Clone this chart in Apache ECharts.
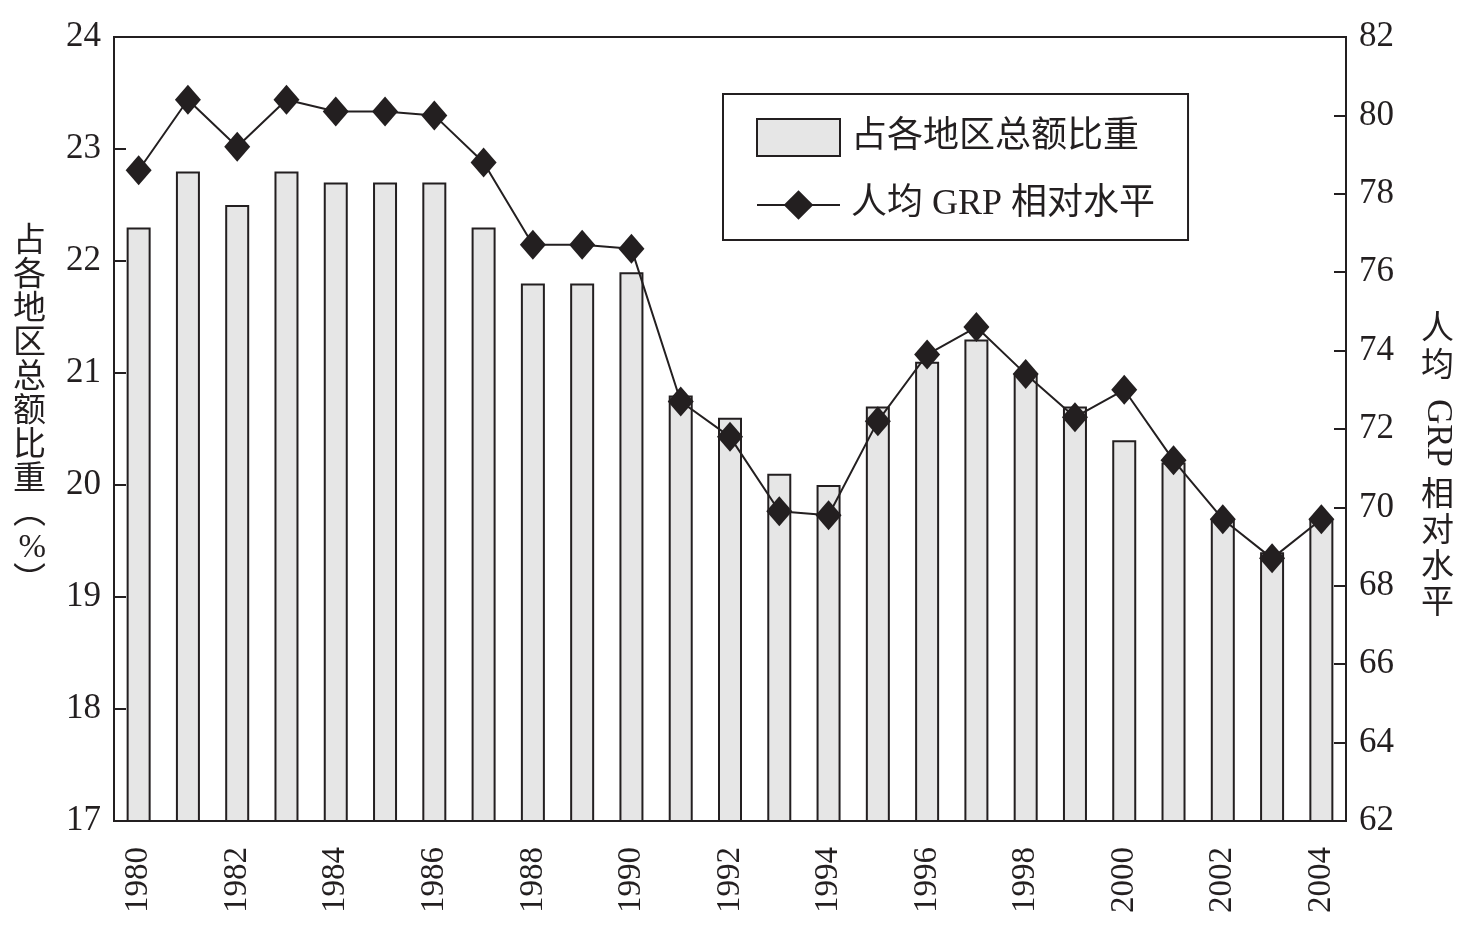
<!DOCTYPE html>
<html>
<head>
<meta charset="utf-8">
<script src="https://cdn.jsdelivr.net/npm/echarts@6/dist/echarts.min.js"></script>
<style>
html,body{margin:0;padding:0;background:#fff;}
#c{width:1477px;height:938px;}
</style>
</head>
<body>
<div id="c"></div>
<script>
var years = ['1980','1981','1982','1983','1984','1985','1986','1987','1988','1989','1990','1991','1992','1993','1994','1995','1996','1997','1998','1999','2000','2001','2002','2003','2004'];
var shareValues = [22.3,22.8,22.5,22.8,22.7,22.7,22.7,22.3,21.8,21.8,21.9,20.8,20.6,20.1,20.0,20.7,21.1,21.3,21.0,20.7,20.4,20.2,19.7,19.4,19.7];
var grpValues = [78.6,80.4,79.2,80.4,80.1,80.1,80.0,78.8,76.7,76.7,76.6,72.7,71.8,69.9,69.8,72.2,73.9,74.6,73.4,72.3,73.0,71.2,69.7,68.7,69.7];
var seriesNames = ['占各地区总额比重','人均 GRP 相对水平'];

var FONT = '"Liberation Serif", "Noto Sans CJK SC", serif';
var INK = '#231f20';
var chart = echarts.init(document.getElementById('c'), null, {renderer:'canvas'});
chart.setOption({
  animation:false,
  backgroundColor:'#fff',
  textStyle:{fontFamily:FONT,color:INK},
  grid:{left:114,right:131,top:37,bottom:117,show:true,borderColor:INK,borderWidth:2,backgroundColor:'transparent',containLabel:false,outerBoundsMode:'none'},
  legend:{
    orient:'vertical',left:723,top:94,
    padding:[24,33,17,33],
    itemWidth:83,itemHeight:37,itemGap:30,
    borderColor:INK,borderWidth:2,
    textStyle:{fontFamily:FONT,fontSize:36,color:INK,padding:[0,0,0,6]},
    data:[{name:seriesNames[0],icon:'rect'},{name:seriesNames[1]}]
  },
  xAxis:{
    type:'category',data:years,
    axisLine:{lineStyle:{color:INK,width:2}},
    axisTick:{inside:true,length:8,lineStyle:{color:INK,width:2}},
    axisLabel:{interval:1,rotate:90,fontFamily:FONT,fontSize:33,color:INK,margin:26}
  },
  yAxis:[{
    type:'value',min:17,max:24,interval:1,
    name:'占\n各\n地\n区\n总\n额\n比\n重\n︵\n%\n︶\n ',
    nameLocation:'middle',nameGap:68,nameRotate:0,
    nameTextStyle:{fontFamily:FONT,fontSize:33,color:INK,lineHeight:34},
    splitLine:{show:false},
    axisLine:{show:true,lineStyle:{color:INK,width:2}},
    axisTick:{show:true,inside:true,length:12,lineStyle:{color:INK,width:2}},
    axisLabel:{fontFamily:FONT,fontSize:35,color:INK,margin:13}
  },{
    type:'value',min:62,max:82,interval:2,
    splitLine:{show:false},
    axisLine:{show:true,lineStyle:{color:INK,width:2}},
    axisTick:{show:true,inside:true,length:12,lineStyle:{color:INK,width:2}},
    axisLabel:{fontFamily:FONT,fontSize:35,color:INK,margin:13}
  }],
  graphic:[
    {type:'text',left:1421,top:312,style:{text:'人\n均',font:'33px '+FONT,fill:INK,lineHeight:37}},
    {type:'text',x:1455,y:399,rotation:-Math.PI/2,style:{text:'GRP',font:'35px '+FONT,fill:INK}},
    {type:'text',left:1421,top:478,style:{text:'相\n对\n水\n平',font:'33px '+FONT,fill:INK,lineHeight:36}}
  ],
  series:[{
    name:seriesNames[0],type:'bar',data:shareValues,barWidth:24,yAxisIndex:0,
    itemStyle:{color:'#e6e6e6',borderColor:INK,borderWidth:2}
  },{
    name:seriesNames[1],type:'line',data:grpValues,yAxisIndex:1,
    symbol:'diamond',symbolSize:[26,30],
    lineStyle:{color:INK,width:2},itemStyle:{color:INK}
  }]
});
</script>
</body>
</html>
